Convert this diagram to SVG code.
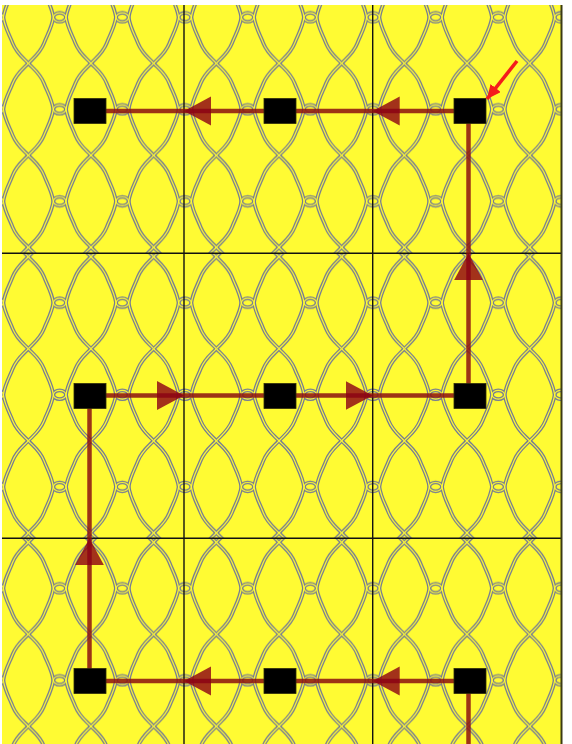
<svg xmlns="http://www.w3.org/2000/svg" xmlns:xlink="http://www.w3.org/1999/xlink" width="572" height="744" viewBox="0 0 572 744">
<style>
.lg{fill:none;stroke:#747a94;stroke-width:3.7}
.ly{fill:none;stroke:#fffb33;stroke-width:1.2}
.grid{stroke:#111;stroke-width:1.4;fill:none}
.edge{fill:none;stroke:#8c1010;stroke-opacity:0.85;stroke-width:4.5}
.ahead{fill:#8c0014;fill-opacity:0.8}
.node{fill:#000;stroke:#2e2c0c;stroke-width:0.8}
.call{fill:none;stroke:#f41c1c;stroke-width:3.6}
</style>
<defs>
<g id="cell">
<path d="M31.33,0 C37,6 43,10 47,20 C50,28 55,36 56.3,46 C55,56 50,64 47,72 C43,82 37,86 31.33,92"/>
<path d="M31.33,0 C25.67,6 19.67,10 15.67,20 C12.67,28 7.67,36 6.37,46 C7.67,56 12.67,64 15.67,72 C19.67,82 25.67,86 31.33,92"/>
<ellipse cx="62.67" cy="46" rx="6.3" ry="4.4"/>
</g>
<g id="row">
<use xlink:href="#cell" x="-61.67"/>
<use xlink:href="#cell" x="1"/>
<use xlink:href="#cell" x="63.67"/>
<use xlink:href="#cell" x="126.33"/>
<use xlink:href="#cell" x="189"/>
</g>
<g id="block">
<use xlink:href="#row" y="-88.5"/>
<use xlink:href="#row" y="3.5"/>
<use xlink:href="#row" y="95.5"/>
<use xlink:href="#row" y="187.5"/>
<use xlink:href="#row" y="279.5"/>
</g>
<pattern id="lattice" patternUnits="userSpaceOnUse" x="-4" y="-32.2" width="188" height="285.5">
<rect width="188" height="285.5" fill="#fffb33"/>
<g class="lg"><use xlink:href="#block"/></g>
<g class="ly"><use xlink:href="#block"/></g>
</pattern>
<marker id="ah" markerUnits="userSpaceOnUse" viewBox="0 0 28 30" markerWidth="28" markerHeight="30" refX="27" refY="14.5" orient="auto">
<path class="ahead" d="M0,0 L27,14.5 L0,29 Z"/>
</marker>
<marker id="ch" markerUnits="userSpaceOnUse" viewBox="0 0 15 13" markerWidth="15" markerHeight="13" refX="14" refY="6.5" orient="auto">
<path d="M0,0 L14,6.5 L0,13 Z" fill="#f41c1c"/>
</marker>
</defs>
<rect width="572" height="744" fill="#ffffff"/>
<g id="background">
<rect x="2" y="5" width="559.5" height="739" fill="url(#lattice)"/>
<line class="grid" x1="184" y1="5" x2="184" y2="744"/>
<line class="grid" x1="372.7" y1="5" x2="372.7" y2="744"/>
<line class="grid" x1="2" y1="253.3" x2="561" y2="253.3"/>
<line class="grid" x1="2" y1="538.3" x2="561" y2="538.3"/>
<line x1="561.5" y1="5" x2="561.5" y2="744" stroke="#3b3a14" stroke-width="2"/>
</g>
<g id="connectors">
<path class="edge" d="M468.5,744 L468.5,681"/>
<path class="edge" marker-mid="url(#ah)" d="M470,681 L372.7,681 L280,681"/>
<path class="edge" marker-mid="url(#ah)" d="M280,681 L184,681 L90,681"/>
<path class="edge" marker-mid="url(#ah)" d="M89.5,681 L89.5,538.3 L89.5,396"/>
<path class="edge" marker-mid="url(#ah)" d="M90,395.5 L184,395.5 L280,395.5"/>
<path class="edge" marker-mid="url(#ah)" d="M280,395.5 L372.7,395.5 L470,395.5"/>
<path class="edge" marker-mid="url(#ah)" d="M468.5,396 L468.5,253.3 L468.5,111"/>
<path class="edge" marker-mid="url(#ah)" d="M470,111 L372.7,111 L280,111"/>
<path class="edge" marker-mid="url(#ah)" d="M280,111 L184,111 L90,111"/>
</g>
<g id="node-r1c1"><rect class="node" x="74" y="98.5" width="32" height="25"/></g>
<g id="node-r1c2"><rect class="node" x="264" y="98.5" width="32" height="25"/></g>
<g id="node-r1c3"><rect class="node" x="454" y="98.5" width="32" height="25"/></g>
<g id="node-r2c1"><rect class="node" x="74" y="383.5" width="32" height="25"/></g>
<g id="node-r2c2"><rect class="node" x="264" y="383.5" width="32" height="25"/></g>
<g id="node-r2c3"><rect class="node" x="454" y="383.5" width="32" height="25"/></g>
<g id="node-r3c1"><rect class="node" x="74" y="668.5" width="32" height="25"/></g>
<g id="node-r3c2"><rect class="node" x="264" y="668.5" width="32" height="25"/></g>
<g id="node-r3c3"><rect class="node" x="454" y="668.5" width="32" height="25"/></g>
<g id="callout">
<path class="call" marker-end="url(#ch)" d="M517,61 L487,99"/>
</g>
</svg>
